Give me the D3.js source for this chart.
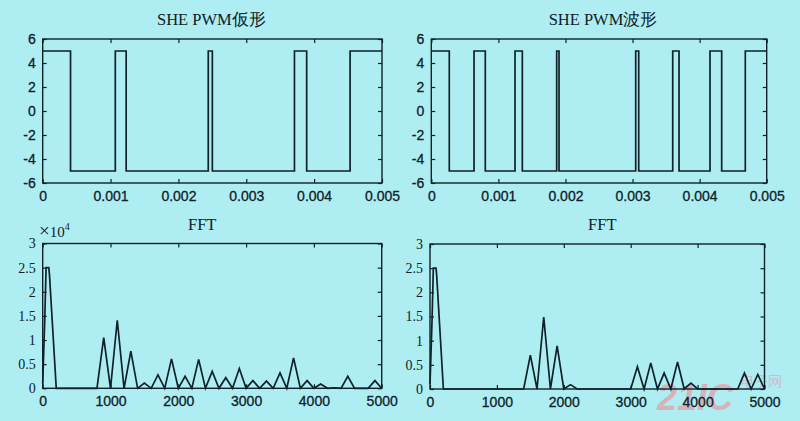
<!DOCTYPE html>
<html>
<head>
<meta charset="utf-8">
<script src="https://cdn.jsdelivr.net/npm/d3@7"></script>
<style>
  html, body { margin: 0; padding: 0; background: #aeeef2; }
  svg { display: block; }
</style>
</head>
<body>
<svg id="chart" width="800" height="421"></svg>
<script>
// ---------------- data ----------------

// SHE PWM waveform 1 (left) : switching instants (s) and level after each instant
var pwm1Times  = [0, 0.00041, 0.00107, 0.00123, 0.00244, 0.00250, 0.00371, 0.00389, 0.00453, 0.005];
var pwm1Levels = [5, -5, 5, -5, 5, -5, 5, -5, 5, 5];

// SHE PWM waveform 2 (right)
var pwm2Times  = [0, 0.000268, 0.000637, 0.000805, 0.001248, 0.001357, 0.001869, 0.001904,
                  0.003047, 0.003092, 0.003599, 0.003693, 0.004155, 0.004329, 0.004681, 0.005];
var pwm2Levels = [5, -5, 5, -5, 5, -5, 5, -5, 5, -5, 5, -5, 5, -5, 5, 5];

// FFT spectra, magnitude in units of 1e4
var fft1Freq = [0, 30, 50, 90, 100, 200, 300, 400, 500, 600, 700, 800, 900, 1000,
                1100, 1200, 1300, 1400, 1500, 1600, 1700, 1800, 1900, 2000,
                2100, 2200, 2300, 2400, 2500, 2600, 2700, 2800, 2900, 3000,
                3100, 3200, 3300, 3400, 3500, 3600, 3700, 3800, 3900, 4000,
                4100, 4200, 4300, 4400, 4500, 4600, 4700, 4800, 4900, 5000];
var fft1Mag  = [0.1, 1.4, 2.5, 2.5, 2.35, 0, 0, 0, 0, 0, 0, 0, 1.05, 0,
                1.41, 0, 0.77, 0, 0.11, 0, 0.28, 0, 0.61, 0,
                0.25, 0, 0.60, 0, 0.35, 0, 0.22, 0, 0.41, 0,
                0.16, 0, 0.15, 0, 0.32, 0, 0.63, 0, 0.16, 0,
                0.09, 0, 0.01, 0, 0.25, 0, 0, 0, 0.16, 0];

var fft2Freq = fft1Freq;
var fft2Mag  = [0.1, 1.4, 2.5, 2.5, 2.35, 0, 0, 0, 0, 0, 0, 0, 0, 0,
                0, 0, 0, 0, 0.70, 0, 1.49, 0, 0.89, 0,
                0.09, 0, 0, 0, 0, 0, 0, 0, 0, 0,
                0.46, 0, 0.54, 0, 0.33, 0, 0.56, 0, 0.12, 0,
                0, 0, 0, 0, 0, 0, 0.33, 0, 0.30, 0];

// tick values and labels
var pwmXTicks  = [0, 0.001, 0.002, 0.003, 0.004, 0.005];
var pwmXLabels = ["0", "0.001", "0.002", "0.003", "0.004", "0.005"];
var pwmYTicks  = [-6, -4, -2, 0, 2, 4, 6];
var pwmYLabels = ["-6", "-4", "-2", "0", "2", "4", "6"];
var fftXTicks  = [0, 1000, 2000, 3000, 4000, 5000];
var fftXLabels = ["0", "1000", "2000", "3000", "4000", "5000"];
var fftYTicks  = [0, 0.5, 1, 1.5, 2, 2.5, 3];
var fftYLabels = ["0", "0.5", "1", "1.5", "2", "2.5", "3"];

// ---------------- drawing ----------------
var ink = "#0f2129";
var svg = d3.select("#chart");

// site watermark (drawn first, sits behind the axes)
var wm = svg.append("g").attr("opacity", 0.7);
wm.append("text").attr("x", 657).attr("y", 410).attr("fill", "#e79aa4")
  .style("font-family", "'Liberation Sans', Arial, sans-serif").style("font-weight", "bold")
  .style("font-style", "italic").style("font-size", "36px").text("21IC");
wm.append("text").attr("x", 740).attr("y", 386).attr("fill", "#d9a8c0")
  .style("font-family", "'Noto Sans CJK SC', sans-serif").style("font-size", "14px").text("电子网");

// Draw one framed MATLAB-like panel
function drawPanel(box, cfg) {
  var x = d3.scaleLinear().domain(cfg.xDomain).range([box.left, box.right]);
  var y = d3.scaleLinear().domain(cfg.yDomain).range([box.bottom, box.top]);
  var g = svg.append("g");

  function lab(ticks, labels) {
    return function(d) { return labels[ticks.indexOf(d)]; };
  }

  // bottom (with labels) + top (ticks only)
  var gb = g.append("g").attr("transform", "translate(0," + box.bottom + ")")
    .call(d3.axisBottom(x).tickValues(cfg.xTicks).tickFormat(lab(cfg.xTicks, cfg.xLabels))
      .tickSizeInner(-4).tickSizeOuter(0).tickPadding(8));
  var gt = g.append("g").attr("transform", "translate(0," + box.top + ")")
    .call(d3.axisTop(x).tickValues(cfg.xTicks).tickFormat("").tickSizeInner(-4).tickSizeOuter(0));
  // left (with labels) + right (ticks only)
  var gl = g.append("g").attr("transform", "translate(" + box.left + ",0)")
    .call(d3.axisLeft(y).tickValues(cfg.yTicks).tickFormat(lab(cfg.yTicks, cfg.yLabels))
      .tickSizeInner(-4).tickSizeOuter(0).tickPadding(cfg.yPad));
  var gr = g.append("g").attr("transform", "translate(" + box.right + ",0)")
    .call(d3.axisRight(y).tickValues(cfg.yTicks).tickFormat("").tickSizeInner(-4).tickSizeOuter(0));

  [gb, gt, gl, gr].forEach(function(a) {
    a.select(".domain").remove();
    a.selectAll(".tick line").attr("stroke", ink).attr("stroke-width", 1.2);
  });
  gb.selectAll("text").attr("fill", ink).attr("stroke", ink).attr("stroke-width", 0.3)
    .style("font-family", "'Liberation Sans', Arial, sans-serif").style("font-size", "14px");
  gl.selectAll("text").attr("fill", ink).attr("stroke", ink).attr("stroke-width", cfg.yStroke)
    .style("font-family", cfg.yFont).style("font-size", "14px");

  // data line
  var line = d3.line()
    .x(function(d) { return x(d[0]); })
    .y(function(d) { return y(d[1]); })
    .curve(cfg.step ? d3.curveStepAfter : d3.curveLinear);
  var pts = cfg.xs.map(function(v, i) { return [v, cfg.ys[i]]; });
  g.append("path").datum(pts).attr("d", line)
    .attr("fill", "none").attr("stroke", ink).attr("stroke-width", 1.7)
    .attr("stroke-linejoin", "miter");

  // frame
  g.append("rect").attr("x", box.left).attr("y", box.top)
    .attr("width", box.right - box.left).attr("height", box.bottom - box.top)
    .attr("fill", "none").attr("stroke", ink).attr("stroke-width", 1.4);

  // title
  g.append("text").attr("x", (box.left + box.right) / 2 + cfg.titleDx).attr("y", box.top - 14)
    .attr("text-anchor", "middle").attr("fill", ink)
    .style("font-family", "'Liberation Serif', 'Times New Roman', serif").style("font-size", "16.5px")
    .text(cfg.title);
  return g;
}

drawPanel({ left: 42.7, top: 39, right: 382, bottom: 183 }, {
  xDomain: [0, 0.005], yDomain: [-6, 6], step: true,
  xs: pwm1Times, ys: pwm1Levels,
  xTicks: pwmXTicks, xLabels: pwmXLabels, yTicks: pwmYTicks, yLabels: pwmYLabels,
  yPad: 7, yStroke: 0.3, yFont: "'Liberation Sans', Arial, sans-serif", title: "SHE PWM仮形", titleDx: -1
});

drawPanel({ left: 431.3, top: 39, right: 766.7, bottom: 183 }, {
  xDomain: [0, 0.005], yDomain: [-6, 6], step: true,
  xs: pwm2Times, ys: pwm2Levels,
  xTicks: pwmXTicks, xLabels: pwmXLabels, yTicks: pwmYTicks, yLabels: pwmYLabels,
  yPad: 7, yStroke: 0.3, yFont: "'Liberation Sans', Arial, sans-serif", title: "SHE PWM波形", titleDx: 4
});

var p3 = drawPanel({ left: 42.7, top: 243.5, right: 381.7, bottom: 388.3 }, {
  xDomain: [0, 5000], yDomain: [0, 3], step: false,
  xs: fft1Freq, ys: fft1Mag,
  xTicks: fftXTicks, xLabels: fftXLabels, yTicks: fftYTicks, yLabels: fftYLabels,
  yPad: 7, yStroke: 0, yFont: "'Liberation Serif', 'Times New Roman', serif", title: "FFT", titleDx: -10
});

drawPanel({ left: 430, top: 244, right: 764.5, bottom: 389 }, {
  xDomain: [0, 5000], yDomain: [0, 3], step: false,
  xs: fft2Freq, ys: fft2Mag,
  xTicks: fftXTicks, xLabels: fftXLabels, yTicks: fftYTicks, yLabels: fftYLabels,
  yPad: 7, yStroke: 0, yFont: "'Liberation Serif', 'Times New Roman', serif", title: "FFT", titleDx: 5
});

// exponent label of the left FFT
var ex = p3.append("text").attr("x", 39).attr("y", 237).attr("fill", ink)
  .style("font-family", "'Liberation Serif', 'Times New Roman', serif").style("font-size", "15px");
ex.append("tspan").style("font-size", "19px").text("×");
ex.append("tspan").text("10");
ex.append("tspan").attr("dy", -7).style("font-size", "10px").text("4");
</script>
</body>
</html>
